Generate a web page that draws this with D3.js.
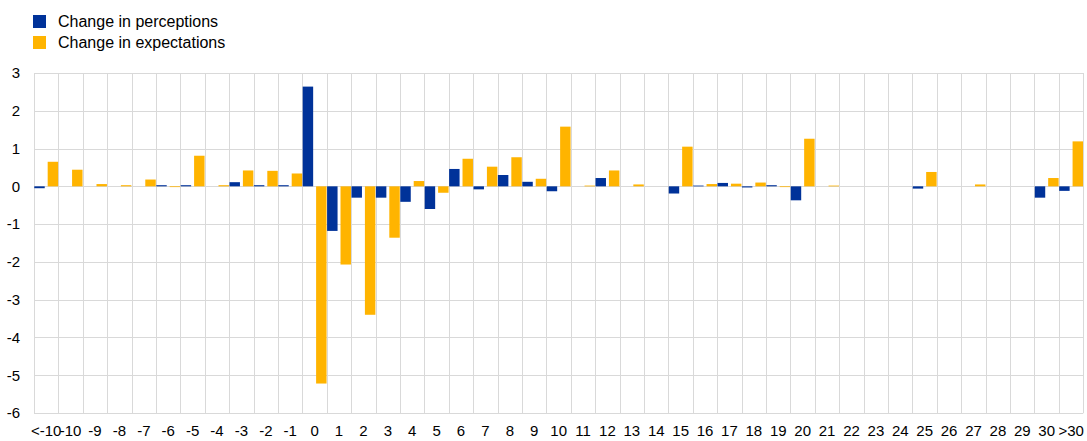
<!DOCTYPE html>
<html>
<head>
<meta charset="utf-8">
<script src="https://cdn.jsdelivr.net/npm/d3@7"></script>
<style>
  body { margin: 0; background: #fff; }
  svg { display: block; font-family: "Liberation Sans", Arial, sans-serif; }
</style>
</head>
<body>
<div id="chart"></div>
<script>
// Inflation buckets (percentage points)
const categories = ["<-10", "-10", "-9", "-8", "-7", "-6", "-5", "-4", "-3", "-2", "-1",
  "0", "1", "2", "3", "4", "5", "6", "7", "8", "9", "10",
  "11", "12", "13", "14", "15", "16", "17", "18", "19", "20",
  "21", "22", "23", "24", "25", "26", "27", "28", "29", "30", ">30"];

// Change in share of respondents, perceptions
const perceptions = [-0.05, 0, 0, 0, 0, 0.03, 0.03, 0, 0.11, 0.03, 0.03,
  2.64, -1.18, -0.30, -0.30, -0.41, -0.60, 0.46, -0.08, 0.30, 0.12, -0.13,
  0, 0.22, 0, 0, -0.19, 0.02, 0.09, -0.03, 0.03, -0.37,
  0, 0, 0, 0, -0.06, 0, 0, 0, 0, -0.30, -0.12];

// Change in share of respondents, expectations
const expectations = [0.65, 0.44, 0.06, 0.03, 0.18, -0.02, 0.81, 0.03, 0.42, 0.41, 0.34,
  -5.22, -2.07, -3.40, -1.36, 0.14, -0.17, 0.73, 0.52, 0.77, 0.20, 1.58,
  0.02, 0.42, 0.05, 0, 1.05, 0.06, 0.07, 0.10, -0.02, 1.26,
  0.02, 0, 0, 0, 0.38, 0, 0.05, 0, 0, 0.22, 1.19];

const yTicks = [3, 2, 1, 0, -1, -2, -3, -4, -5, -6];

const seriesNames = ["Change in perceptions", "Change in expectations"];
const seriesColors = ["#003299", "#ffb400"];

const W = 1087, H = 441;
const plotLeft = 34, plotRight = 1083.3, plotTop = 73, plotBottom = 413;

const svg = d3.select("#chart").append("svg")
  .attr("width", W).attr("height", H);

const x = d3.scaleBand().domain(categories).range([plotLeft, plotRight]).padding(0);
const inner = d3.scaleBand().domain([0, 1]).range([0, x.bandwidth()])
  .paddingInner(0.22).paddingOuter(0.02);
const y = d3.scaleLinear().domain([-6, 3]).range([plotBottom, plotTop]);

const grid = "#d9d9d9";

// horizontal gridlines
svg.append("g").selectAll("line").data(yTicks).join("line")
  .attr("x1", plotLeft).attr("x2", plotRight)
  .attr("y1", d => Math.round(y(d)) + 0.5).attr("y2", d => Math.round(y(d)) + 0.5)
  .attr("stroke", grid).attr("stroke-width", 1);

// vertical gridlines at category boundaries
const bounds = categories.map(c => x(c)).concat([plotRight]);
svg.append("g").selectAll("line").data(bounds).join("line")
  .attr("x1", d => Math.round(d) + 0.5).attr("x2", d => Math.round(d) + 0.5)
  .attr("y1", plotTop).attr("y2", plotBottom)
  .attr("stroke", grid).attr("stroke-width", 1);

// bars
const rows = categories.map((c, i) => ({ c, vals: [perceptions[i], expectations[i]] }));
const groups = svg.append("g").selectAll("g").data(rows).join("g")
  .attr("transform", d => `translate(${x(d.c)},0)`);
groups.selectAll("rect").data(d => d.vals.map((v, k) => ({ v, k }))).join("rect")
  .attr("x", d => inner(d.k))
  .attr("width", inner.bandwidth())
  .attr("y", d => y(Math.max(0, d.v)))
  .attr("height", d => Math.abs(y(d.v) - y(0)))
  .attr("fill", d => seriesColors[d.k]);

// y axis labels (plain hyphen for negatives)
const yAxis = svg.append("g").attr("transform", `translate(${plotLeft},0)`)
  .call(d3.axisLeft(y).tickValues(yTicks).tickSize(0).tickPadding(14).tickFormat(d => String(d)));
yAxis.select(".domain").remove();
yAxis.selectAll("text").attr("font-size", 15).attr("fill", "#000")
  .style("font-family", "Liberation Sans, Arial, sans-serif");

// x axis labels
const xAxis = svg.append("g").attr("transform", `translate(0,${plotBottom})`)
  .call(d3.axisBottom(x).tickSize(0).tickPadding(12));
xAxis.select(".domain").remove();
xAxis.selectAll("text").attr("font-size", 15).attr("fill", "#000")
  .style("font-family", "Liberation Sans, Arial, sans-serif");

// legend
const legend = svg.append("g").selectAll("g").data(seriesNames).join("g")
  .attr("transform", (d, i) => `translate(33,${15 + i * 21})`);
legend.append("rect").attr("width", 13).attr("height", 13)
  .attr("fill", (d, i) => seriesColors[i]);
legend.append("text").attr("x", 25).attr("y", 12)
  .attr("font-size", 16).attr("fill", "#000").text(d => d);
</script>
</body>
</html>
